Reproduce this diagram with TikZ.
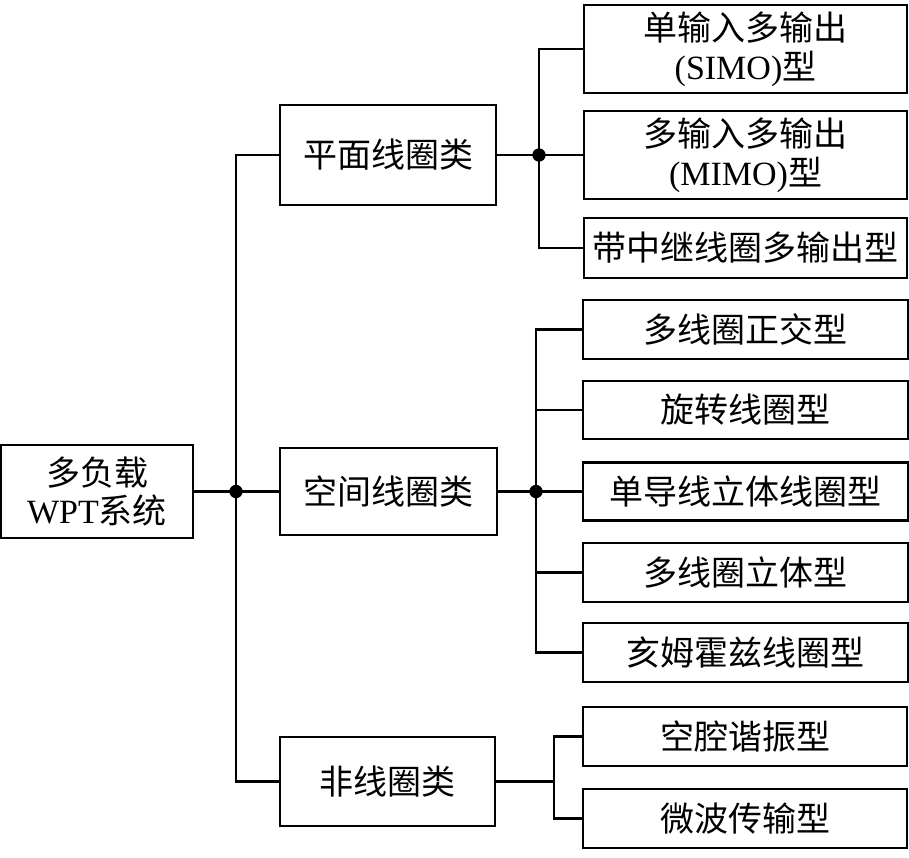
\documentclass[tikz,border=0pt]{standalone}
\usepackage{fontspec}
\setmainfont{Liberation Serif}
\newfontfamily\cjk{Noto Sans CJK SC}
\newcommand\lat[1]{{\rmfamily #1}}
\begin{document}
\begin{tikzpicture}[x=0.75pt,y=-0.75pt,
  box/.style={draw, line width=1.7pt, inner sep=0pt, align=center,
    font=\fontsize{25.5}{29}\selectfont\cjk},
  wire/.style={line width=1.7pt},
  jdot/.style={circle, fill, inner sep=0pt, minimum size=10pt}]
\useasboundingbox (0,0) rectangle (909,857);
% level 0/1
\node[box, minimum width=144pt, minimum height=69.75pt] (root) at (97,491.5) {多负载\\\lat{WPT}系统};
\node[box, minimum width=162pt, minimum height=75pt] (plane) at (388,155) {平面线圈类};
\node[box, minimum width=162.75pt, minimum height=65.25pt] (space) at (388.5,491.5) {空间线圈类};
\node[box, minimum width=161.25pt, minimum height=66.75pt] (noncoil) at (387.5,781.5) {非线圈类};
% plane children
\node[box, minimum width=242.25pt, minimum height=66pt] (p1) at (745.5,49) {单输入多输出\\\lat{(SIMO)}型};
\node[box, minimum width=242.25pt, minimum height=66pt] (p2) at (745.5,155) {多输入多输出\\\lat{(MIMO)}型};
\node[box, minimum width=242.25pt, minimum height=45pt] (p3) at (745.5,248) {带中继线圈多输出型};
% space children
\node[box, minimum width=243.75pt, minimum height=44.25pt] (s1) at (745.5,329.5) {多线圈正交型};
\node[box, minimum width=243.75pt, minimum height=43.5pt] (s2) at (745.5,410) {旋转线圈型};
\node[box, minimum width=243.75pt, minimum height=43.5pt] (s3) at (745.5,491.5) {单导线立体线圈型};
\node[box, minimum width=243.75pt, minimum height=44.25pt] (s4) at (745.5,572.5) {多线圈立体型};
\node[box, minimum width=243.75pt, minimum height=44.25pt] (s5) at (745.5,652.5) {亥姆霍兹线圈型};
% noncoil children
\node[box, minimum width=243pt, minimum height=44.25pt] (n1) at (745,736.5) {空腔谐振型};
\node[box, minimum width=243pt, minimum height=44.25pt] (n2) at (745,818.5) {微波传输型};
% trunk
\coordinate (ttop) at (236,155);
\coordinate (tmid) at (236,491.5);
\coordinate (tbot) at (236,781.5);
\draw[wire] (plane.west) -- (ttop) -- (tbot) -- (noncoil.west);
\draw[wire] (root.east) -- (space.west);
\node[jdot] (d0) at (tmid) {};
% plane branch
\coordinate (pb) at (539,155);
\draw[wire] (plane.east) -- (p2.west);
\draw[wire] (p1.west) -| (pb) |- (p3.west);
\node[jdot] (d1) at (pb) {};
% space branch
\coordinate (sb) at (536,491.5);
\draw[wire] (space.east) -- (s3.west);
\draw[wire] (s1.west) -| (sb) |- (s5.west);
\draw[wire] (s2.west) -- (sb |- s2.west);
\draw[wire] (s4.west) -- (sb |- s4.west);
\node[jdot] (d2) at (sb) {};
% noncoil branch
\coordinate (nb) at (554,781.5);
\draw[wire] (noncoil.east) -- (nb);
\draw[wire] (n1.west) -| (nb) |- (n2.west);
\end{tikzpicture}
\end{document}
